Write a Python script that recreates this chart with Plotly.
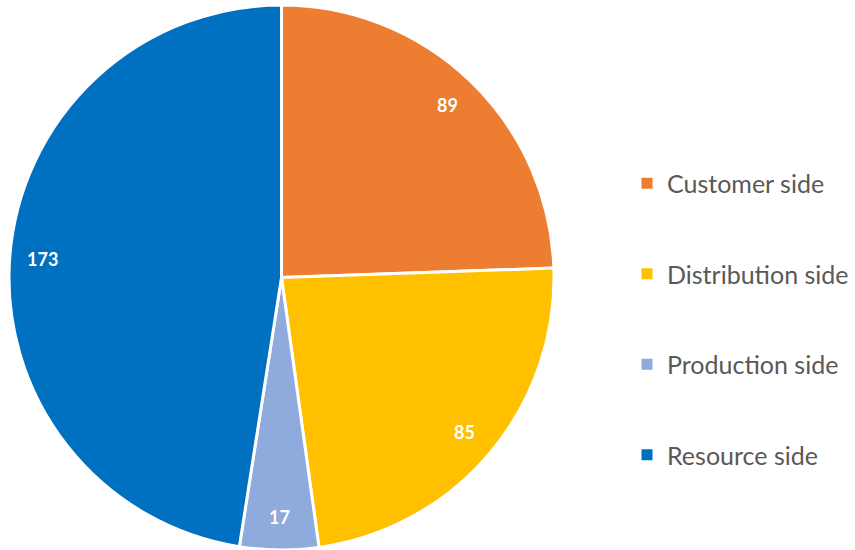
"""
Pie chart: share of items by side (customer / distribution / production / resource)
"""

import math
import plotly.graph_objects as go

labels = ["Customer side", "Distribution side", "Production side", "Resource side"]
values = [89, 85, 17, 173]
colors = ["#ED7D31", "#FFC000", "#8FAADC", "#0070C0"]

W, H = 855, 550
# pie placement in pixels (center + radius)
CX, CY, R = 281.5, 277.5, 272.5

fig = go.Figure()

fig.add_trace(
    go.Pie(
        labels=labels,
        values=values,
        sort=False,
        direction="clockwise",
        rotation=0,
        marker=dict(colors=colors, line=dict(color="white", width=3)),
        textinfo="none",
        hoverinfo="label+value",
        showlegend=False,
        domain=dict(x=[(CX - R) / W, (CX + R) / W],
                    y=[max(0, 1 - (CY + R) / H), min(1, 1 - (CY - R) / H)]),
    )
)

# legend proxies so the entries can be spaced out like the original
for i, (lab, col) in enumerate(zip(labels, colors)):
    fig.add_trace(
        go.Scatter(
            x=[None], y=[None],
            mode="markers",
            name=lab,
            legendgroup=f"g{i}",
            marker=dict(symbol="square", size=11, color=col),
            showlegend=True,
        )
    )

# data labels near the outer edge of each slice (Excel "inside end")
total = sum(values)
start = 0.0
r_lab = 0.885 * 270.5
for v in values:
    mid = (start + v / 2) / total * 2 * math.pi
    start += v
    px = CX + r_lab * math.sin(mid)
    py = CY - r_lab * math.cos(mid)
    fig.add_annotation(
        x=px / W, y=1 - py / H, xref="paper", yref="paper",
        xanchor="center", yanchor="middle",
        text=f"<b>{v}</b>", showarrow=False,
        font=dict(family="Lato, 'Open Sans', sans-serif", size=18, color="white"),
    )

fig.update_layout(
    width=W, height=H,
    margin=dict(l=0, r=0, t=0, b=0),
    paper_bgcolor="white",
    plot_bgcolor="white",
    xaxis=dict(visible=False),
    yaxis=dict(visible=False),
    legend=dict(
        x=627 / W, xanchor="left",
        y=1 - 319 / H, yanchor="middle",
        tracegroupgap=55,
        font=dict(family="Lato, 'Open Sans', sans-serif", size=25, color="#595959"),
        bgcolor="rgba(0,0,0,0)",
    ),
)

fig.write_html("out.html", config={"displayModeBar": False},
               post_script="document.body.style.margin='0';")
